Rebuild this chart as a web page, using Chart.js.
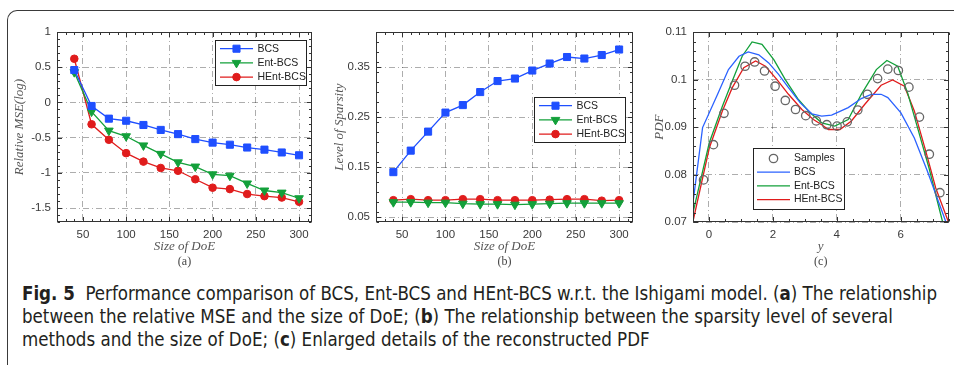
<!DOCTYPE html>
<html>
<head>
<meta charset="utf-8">
<script src="https://cdn.jsdelivr.net/npm/chart.js"></script>
<style>
html, body { margin: 0; padding: 0; background: #fff; }
body { width: 954px; height: 365px; position: relative; overflow: hidden; }
canvas { position: absolute; top: 0; }
#frame { position: absolute; left: 7px; top: 10px; width: 1000px; height: 400px;
  border-left: 1.3px solid #3a3a3a; border-top: 1.3px solid #3a3a3a; border-top-left-radius: 10px; }
#cap { position: absolute; left: 22px; top: 282px; color: #231f20; white-space: nowrap;
  font-family: "Liberation Sans Narrow", "DejaVu Sans Condensed", "Open Sans", sans-serif;
  font-stretch: condensed; font-size: 19px; line-height: 23px; }
#cap span { display: inline-block; transform-origin: 0 0; }
</style>
</head>
<body>
<div id="frame"></div>
<canvas id="ca" width="320" height="269" style="left:0"></canvas>
<canvas id="cb" width="320" height="269" style="left:320px"></canvas>
<canvas id="cc" width="314" height="269" style="left:640px"></canvas>
<div id="cap">
  <div><span><b>Fig. 5</b>&nbsp; Performance comparison of BCS, Ent-BCS and HEnt-BCS w.r.t. the Ishigami model. (<b>a</b>) The relationship</span></div>
  <div><span>between the relative MSE and the size of DoE; (<b>b</b>) The relationship between the sparsity level of several</span></div>
  <div><span>methods and the size of DoE; (<b>c</b>) Enlarged details of the reconstructed PDF</span></div>
</div>
<script>
// size of DoE
const doe = [40, 60, 80, 100, 120, 140, 160, 180, 200, 220, 240, 260, 280, 300];

// (a) relative MSE (log)
const mseBCS  = [0.46, -0.05, -0.23, -0.26, -0.32, -0.39, -0.45, -0.52, -0.57, -0.60, -0.64, -0.67, -0.71, -0.75];
const mseEnt  = [0.43, -0.13, -0.40, -0.48, -0.61, -0.73, -0.85, -0.91, -1.02, -1.04, -1.15, -1.25, -1.28, -1.36];
const mseHEnt = [0.62, -0.31, -0.53, -0.72, -0.84, -0.93, -0.97, -1.09, -1.21, -1.23, -1.30, -1.33, -1.35, -1.41];

// (b) level of sparsity
const spBCS  = [0.140, 0.183, 0.221, 0.259, 0.274, 0.300, 0.322, 0.327, 0.343, 0.357, 0.370, 0.367, 0.374, 0.385];
const spEnt  = [0.080, 0.080, 0.079, 0.079, 0.077, 0.076, 0.076, 0.075, 0.076, 0.077, 0.078, 0.078, 0.078, 0.078];
const spHEnt = [0.084, 0.086, 0.084, 0.084, 0.086, 0.086, 0.084, 0.084, 0.084, 0.085, 0.086, 0.086, 0.083, 0.084];

// (c) PDF
const sampX = [-0.17, 0.14, 0.47, 0.80, 1.13, 1.43, 1.74, 2.07, 2.39, 2.71, 3.03, 3.36, 3.69, 4.01, 4.33, 4.66, 4.96, 5.28, 5.60, 5.93, 6.26, 6.59, 6.90, 7.23];
const sampY = [0.0789, 0.0863, 0.0929, 0.0988, 0.1028, 0.1037, 0.1018, 0.0986, 0.0956, 0.0937, 0.0924, 0.0913, 0.0905, 0.0902, 0.0911, 0.0936, 0.0969, 0.1002, 0.1022, 0.1019, 0.0984, 0.0921, 0.0843, 0.0762];
const bcsX = [-0.5, -0.2, 0.27, 0.61, 0.94, 1.23, 1.56, 1.87, 2.18, 2.49, 2.86, 3.22, 3.53, 3.84, 4.36, 4.77, 5.08, 5.39, 5.60, 6.01, 6.43, 6.84, 7.41];
const bcsY = [0.0741, 0.0899, 0.0969, 0.1021, 0.1049, 0.1058, 0.1052, 0.1035, 0.1011, 0.0983, 0.0951, 0.0928, 0.0923, 0.0925, 0.0941, 0.0960, 0.0969, 0.0969, 0.0962, 0.0930, 0.0877, 0.0807, 0.0702];
const entX = [-0.5, 0.01, 0.42, 0.73, 1.04, 1.35, 1.66, 2.03, 2.39, 2.80, 3.17, 3.53, 3.94, 4.36, 4.77, 5.24, 5.57, 5.91, 6.22, 6.53, 6.89, 7.31];
const entY = [0.0720, 0.0867, 0.0944, 0.0997, 0.1049, 0.1079, 0.1074, 0.1042, 0.1000, 0.0958, 0.0930, 0.0909, 0.0902, 0.0916, 0.0969, 0.1021, 0.1040, 0.1028, 0.0972, 0.0899, 0.0814, 0.0702];
const hentX = [-0.5, 0.01, 0.42, 0.73, 1.09, 1.46, 1.77, 2.13, 2.49, 2.91, 3.27, 3.53, 3.74, 4.10, 4.46, 4.88, 5.39, 5.75, 6.12, 6.43, 6.79, 7.10, 7.49];
const hentY = [0.0702, 0.0856, 0.0934, 0.0983, 0.1025, 0.1039, 0.1028, 0.1000, 0.0969, 0.0937, 0.0916, 0.0905, 0.0895, 0.0895, 0.0913, 0.0948, 0.0988, 0.0999, 0.0986, 0.0934, 0.0849, 0.0772, 0.0702];

// tick labels
const doeTicks = [50, 100, 150, 200, 250, 300];
const aYTicks = [-1.5, -1, -0.5, 0, 0.5, 1];
const bYTicks = [0.05, 0.15, 0.25, 0.35];
const cXTicks = [0, 2, 4, 6];
const cYTicks = [0.07, 0.08, 0.09, 0.1, 0.11];

const BLUE = '#1f4fff', GREEN = '#13a03a', RED = '#e01c1c';
const SANS = '"Liberation Sans", Arial, sans-serif';
const SERIF = '"Liberation Serif", "DejaVu Serif", serif';

const pts = (xs, ys) => xs.map((x, i) => ({x, y: ys[i]}));

function series(label, ys, color, style, r, xs) {
  return {
    label, data: pts(xs || doe, ys), showLine: true,
    borderColor: color, borderWidth: 1.3,
    pointStyle: style, pointRadius: r, pointRotation: style === 'triangle' ? 180 : 0,
    pointBackgroundColor: color, pointBorderColor: color, pointBorderWidth: 1
  };
}

// box, inward ticks and legend, drawn the way the source figure shows them
const boxPlugin = {
  id: 'box',
  afterDraw(chart, args, opts) {
    const {ctx, chartArea: a, scales} = chart;
    const L = Math.round(a.left) + 0.5, R = Math.round(a.right) - 0.5;
    const T = Math.round(a.top) + 0.5, B = Math.round(a.bottom) - 0.5;
    ctx.save();
    ctx.strokeStyle = '#333';
    ctx.lineWidth = 1;
    ctx.beginPath();
    const marks = (scale, step, len, horiz) => {
      const vals = [];
      if (step) {
        const k0 = Math.ceil(scale.min / step - 1e-6);
        for (let k = k0; k * step <= scale.max + 1e-9; k++) vals.push(k * step);
      } else scale.ticks.forEach(t => vals.push(t.value));
      vals.forEach(v => {
        const p = Math.round(scale.getPixelForValue(v)) + 0.5;
        if (horiz) { ctx.moveTo(p, B); ctx.lineTo(p, B - len); ctx.moveTo(p, T); ctx.lineTo(p, T + len); }
        else { ctx.moveTo(L, p); ctx.lineTo(L + len, p); ctx.moveTo(R, p); ctx.lineTo(R - len, p); }
      });
    };
    marks(scales.x, opts.minorX, 2.5, true);
    marks(scales.x, 0, 4.5, true);
    marks(scales.y, opts.minorY, 2.5, false);
    marks(scales.y, 0, 4.5, false);
    ctx.stroke();
    ctx.strokeRect(L, T, R - L, B - T);

    const g = opts.legend;
    ctx.fillStyle = '#fff';
    ctx.fillRect(g.x, g.y, g.w, g.h);
    ctx.strokeStyle = '#222';
    ctx.strokeRect(g.x + 0.5, g.y + 0.5, g.w, g.h);
    ctx.font = '10.5px ' + SANS;
    ctx.textBaseline = 'middle';
    chart.data.datasets.forEach((ds, i) => {
      const yy = g.y + g.first + i * g.step;
      const x0 = g.x + g.l0, x1 = g.x + g.l1;
      if (ds.showLine) {
        ctx.strokeStyle = ds.borderColor; ctx.lineWidth = ds.borderWidth;
        ctx.beginPath(); ctx.moveTo(x0, yy); ctx.lineTo(x1, yy); ctx.stroke();
      }
      if (ds.pointRadius > 0) {
        ctx.fillStyle = ds.pointBackgroundColor; ctx.strokeStyle = ds.pointBorderColor;
        ctx.lineWidth = ds.pointBorderWidth;
        Chart.helpers.drawPoint(ctx, {pointStyle: ds.pointStyle, radius: ds.pointRadius,
          rotation: ds.pointRotation || 0, borderWidth: ds.pointBorderWidth}, (x0 + x1) / 2, yy);
      }
      ctx.fillStyle = '#222';
      ctx.fillText(ds.label, g.x + g.tx, yy);
    });
    ctx.restore();
  }
};

function axis(min, max, ticks, title, extra) {
  return Object.assign({
    type: 'linear', min, max,
    afterBuildTicks: s => { s.ticks = ticks.map(v => ({value: v})); },
    grid: {color: 'rgba(0,0,0,0.32)', lineWidth: 1, drawTicks: false},
    border: {display: false, dash: [6, 3, 1, 3]},
    ticks: {font: {family: SANS, size: 11.5}, color: '#3a3a3a', padding: 6,
      autoSkip: false, maxRotation: 0, callback: v => String(v)},
    title: {display: true, text: title, color: '#555',
      font: {family: SERIF, size: 13, style: 'italic'}}
  }, extra);
}

function panel(id, datasets, o) {
  return new Chart(document.getElementById(id), {
    type: 'scatter',
    data: {datasets},
    options: {
      responsive: false, animation: false, devicePixelRatio: 1,
      layout: {padding: {left: 0, top: 32, right: o.padRight, bottom: 0}},
      plugins: {
        legend: {display: false}, tooltip: {enabled: false},
        title: {display: true, position: 'bottom', fullSize: false, text: o.tag, color: '#444',
          padding: 0, font: {family: SERIF, size: 12, weight: 'normal'}},
        box: {legend: o.legend, minorX: o.minorX, minorY: o.minorY}
      },
      scales: {
        x: axis(o.x[0], o.x[1], o.xTicks, o.xTitle, {afterFit: s => { s.height = 32.4; }}),
        y: axis(o.y[0], o.y[1], o.yTicks, o.yTitle, {afterFit: s => { s.width = o.yw; }})
      }
    },
    plugins: [boxPlugin]
  });
}

const legend3 = {w: 91, h: 45, first: 8.7, step: 14.2, l0: 5, l1: 38, tx: 42.5};

const chA = panel('ca', [
  series('BCS', mseBCS, BLUE, 'rect', 5),
  series('Ent-BCS', mseEnt, GREEN, 'triangle', 5),
  series('HEnt-BCS', mseHEnt, RED, 'circle', 3.8)
], {x: [20, 315], y: [-1.7, 1], xTicks: doeTicks, yTicks: aYTicks, yw: 57, padRight: 8,
  minorX: 10, minorY: 0.1, xTitle: 'Size of DoE', yTitle: 'Relative MSE(log)', tag: '(a)',
  legend: Object.assign({x: 215, y: 40}, legend3)});

const chB = panel('cb', [
  series('BCS', spBCS, BLUE, 'rect', 5),
  series('Ent-BCS', spEnt, GREEN, 'triangle', 5),
  series('HEnt-BCS', spHEnt, RED, 'circle', 3.8)
], {x: [20, 316], y: [0.04, 0.42], xTicks: doeTicks, yTicks: bYTicks, yw: 56, padRight: 7,
  minorX: 10, minorY: 0.02, xTitle: 'Size of DoE', yTitle: 'Level of Sparsity', tag: '(b)',
  legend: Object.assign({x: 214, y: 97}, legend3)});

const chC = panel('cc', [
  {label: 'Samples', data: pts(sampX, sampY), showLine: false, pointStyle: 'circle', pointRadius: 4.2,
    pointBorderWidth: 1.3, pointBorderColor: '#666', pointBackgroundColor: 'rgba(0,0,0,0)'},
  series('BCS', bcsY, '#2b62ff', 'circle', 0, bcsX),
  series('Ent-BCS', entY, GREEN, 'circle', 0, entX),
  series('HEnt-BCS', hentY, RED, 'circle', 0, hentX)
], {x: [-0.5, 7.5], y: [0.07, 0.11], xTicks: cXTicks, yTicks: cYTicks, yw: 53, padRight: 1,
  minorX: 0.5, minorY: 0.002, xTitle: 'y', yTitle: 'PDF', tag: '(c)',
  legend: {x: 113, y: 148, w: 91, h: 61, first: 10.5, step: 13.7, l0: 4, l1: 37, tx: 41}});

[chA, chB, chC].forEach(c => {
  c.options.scales.y.title.padding = {top: 12, bottom: 0};
  c.options.scales.x.title.padding = {top: 0, bottom: 0};
  c.update();
});

// fit the caption to the width of the printed lines
const spans = document.querySelectorAll('#cap span');
const k = 915 / spans[0].getBoundingClientRect().width;
spans.forEach(s => { s.style.transform = 'scaleX(' + k + ')'; });
</script>
</body>
</html>
